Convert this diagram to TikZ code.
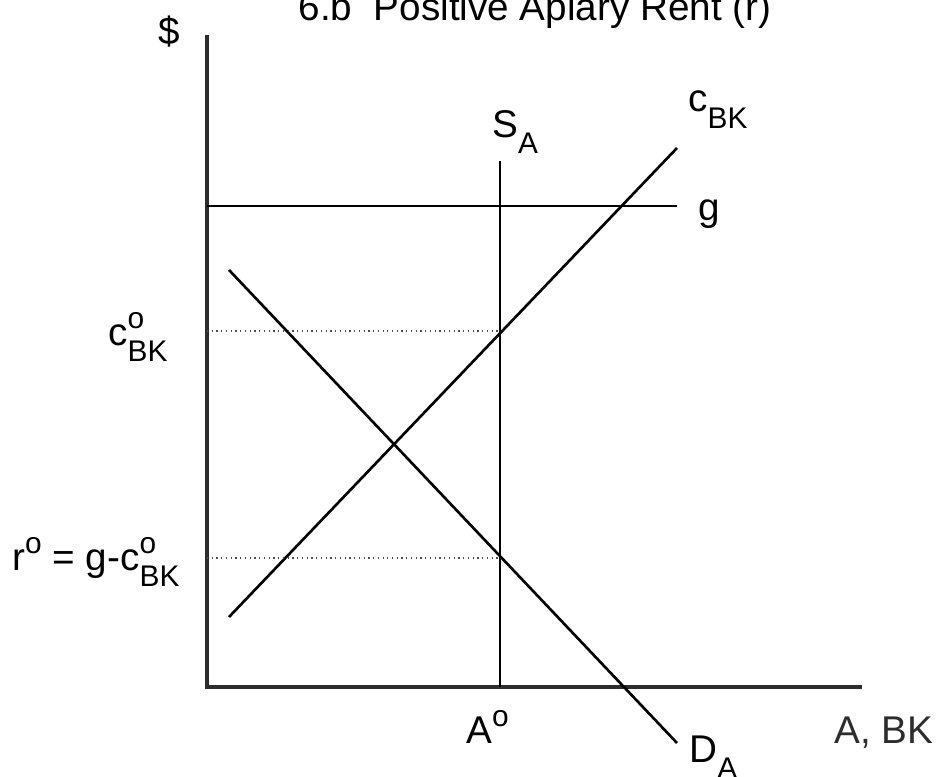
\documentclass[tikz,border=0pt]{standalone}
\usepackage{fontspec}
\setmainfont{Liberation Sans}
\definecolor{axisgray}{RGB}{45, 45, 45}
\usetikzlibrary{positioning}
\newcommand{\hitxt}[1]{\raisebox{9.5pt}{\fontsize{17}{19}\selectfont #1}}
\newcommand{\lotxt}[1]{\raisebox{-9.3pt}{\fontsize{17}{19}\selectfont #1}}
\tikzset{
	axis/.style={line width=2pt, draw=axisgray},
	curve/.style={line width=1.5pt, draw=black},
	guide/.style={dotted, line width=0.7pt, draw=black!70},
	lbl/.style={anchor=base west, inner sep=0pt, font=\fontsize{22}{26}\selectfont},
}

\begin{document}
\begin{tikzpicture}[x=0.02cm, y=-0.02cm]
		\useasboundingbox (0,0) rectangle (940,777);
		% axes
		\coordinate (orig) at (207,687);
		\coordinate (ytop) at (207,35);
		\coordinate (xend) at (862,687);
		\draw[axis] (ytop) -- (orig) -- (xend);
		% curves
		\coordinate (gl) at (207,206);
		\coordinate (gr) at (677,206);
		\coordinate (stop) at (500,161);
		\coordinate (sbot) at (500,687);
		\coordinate (cbot) at (229,617);
		\coordinate (ctop) at (677,148);
		\coordinate (dtop) at (229,270);
		\coordinate (dbot) at (677,743);
		\draw[curve] (gl) -- (gr);
		\draw[curve] (stop) -- (sbot);
		\draw[curve] (cbot) -- (ctop);
		\draw[curve] (dtop) -- (dbot);
		% guides
		\coordinate (cy) at (207,331);
		\coordinate (cs) at (500,331);
		\coordinate (ry) at (207,558);
		\coordinate (rs) at (500,558);
		\draw[guide] (cy) -- (cs);
		\draw[guide] (ry) -- (rs);
		% labels
		\node[lbl, anchor=base] (title) at (535,21) {6.b\ \ Positive Apiary Rent (r)};
		\node[lbl] (dollar) at (158,45) {\$};
		\node[lbl] (cblbl) at (108,345) {c\makebox[0pt][l]{\hitxt{o}}\lotxt{BK}};
		\node[lbl] (rlbl) at (12,570) {r\hitxt{o} = g-c\makebox[0pt][l]{\hitxt{o}}\lotxt{BK}};
		\node[lbl] (slbl) at (492,137) {S\lotxt{A}};
		\node[lbl] (clbl) at (688,112) {c\lotxt{BK}};
		\node[lbl] (glbl) at (698,220) {g};
		\node[lbl] (aolbl) at (466,743) {A\hitxt{o}};
		\node[lbl, text=axisgray] (xlbl) at (834,743) {A, BK};
		\node[lbl] (dlbl) at (689,762) {D\lotxt{A}};
	\end{tikzpicture}
\end{document}
